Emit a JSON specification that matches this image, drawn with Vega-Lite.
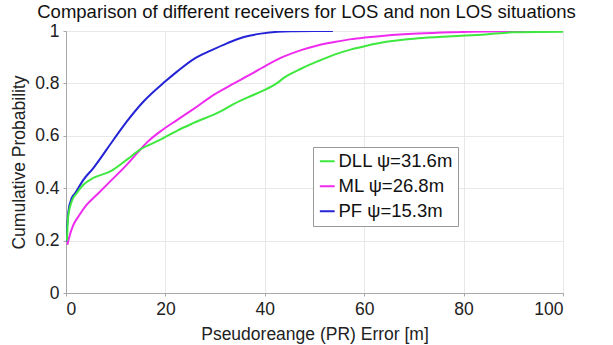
{
  "$schema": "https://vega.github.io/schema/vega-lite/v6.json",
  "width": 497,
  "height": 262,
  "autosize": {"type": "none"},
  "padding": {"left": 66, "top": 31, "right": 50, "bottom": 52},
  "background": "white",
  "config": {
    "font": "Liberation Sans",
    "view": {"stroke": "#a8a8a8", "strokeWidth": 1},
    "axis": {
      "labelFont": "Liberation Sans",
      "titleFont": "Liberation Sans",
      "labelColor": "#222",
      "titleColor": "#222",
      "labelFontSize": 17.5,
      "titleFontSize": 17.5,
      "titleFontWeight": "normal",
      "domainColor": "#a8a8a8",
      "gridColor": "#e8e8e8",
      "tickColor": "#a8a8a8",
      "tickSize": 3
    }
  },
  "title": {
    "text": "Comparison of different receivers for LOS and non LOS situations",
    "fontSize": 18.5,
    "fontWeight": "normal",
    "font": "Liberation Sans",
    "color": "#111",
    "offset": 1,
    "dx": -8
  },
  "data": {
    "values": [
      {"r": "PF ψ=15.3m", "x": 0, "y": 0.197},
      {"r": "PF ψ=15.3m", "x": 0.47, "y": 0.31},
      {"r": "PF ψ=15.3m", "x": 1.15, "y": 0.362},
      {"r": "PF ψ=15.3m", "x": 1.8, "y": 0.38},
      {"r": "PF ψ=15.3m", "x": 3.5, "y": 0.432},
      {"r": "PF ψ=15.3m", "x": 5.5, "y": 0.477},
      {"r": "PF ψ=15.3m", "x": 9.56, "y": 0.585},
      {"r": "PF ψ=15.3m", "x": 12.25, "y": 0.655},
      {"r": "PF ψ=15.3m", "x": 15.6, "y": 0.731},
      {"r": "PF ψ=15.3m", "x": 20, "y": 0.808},
      {"r": "PF ψ=15.3m", "x": 22.4, "y": 0.846},
      {"r": "PF ψ=15.3m", "x": 25.7, "y": 0.893},
      {"r": "PF ψ=15.3m", "x": 29.1, "y": 0.925},
      {"r": "PF ψ=15.3m", "x": 32.5, "y": 0.954},
      {"r": "PF ψ=15.3m", "x": 35.8, "y": 0.977},
      {"r": "PF ψ=15.3m", "x": 39.2, "y": 0.99},
      {"r": "PF ψ=15.3m", "x": 42.6, "y": 0.997},
      {"r": "PF ψ=15.3m", "x": 46, "y": 0.999},
      {"r": "PF ψ=15.3m", "x": 50, "y": 1.0},
      {"r": "PF ψ=15.3m", "x": 53.7, "y": 1.0},

      {"r": "ML ψ=26.8m", "x": 0.27, "y": 0.184},
      {"r": "ML ψ=26.8m", "x": 0.6, "y": 0.21},
      {"r": "ML ψ=26.8m", "x": 1.48, "y": 0.26},
      {"r": "ML ψ=26.8m", "x": 2.5, "y": 0.292},
      {"r": "ML ψ=26.8m", "x": 4.18, "y": 0.337},
      {"r": "ML ψ=26.8m", "x": 6.2, "y": 0.375},
      {"r": "ML ψ=26.8m", "x": 8.9, "y": 0.426},
      {"r": "ML ψ=26.8m", "x": 12.25, "y": 0.49},
      {"r": "ML ψ=26.8m", "x": 14.3, "y": 0.534},
      {"r": "ML ψ=26.8m", "x": 16.3, "y": 0.575},
      {"r": "ML ψ=26.8m", "x": 19, "y": 0.617},
      {"r": "ML ψ=26.8m", "x": 22.4, "y": 0.661},
      {"r": "ML ψ=26.8m", "x": 25.7, "y": 0.703},
      {"r": "ML ψ=26.8m", "x": 29.8, "y": 0.757},
      {"r": "ML ψ=26.8m", "x": 33.8, "y": 0.8},
      {"r": "ML ψ=26.8m", "x": 37.2, "y": 0.835},
      {"r": "ML ψ=26.8m", "x": 40.5, "y": 0.871},
      {"r": "ML ψ=26.8m", "x": 43.9, "y": 0.903},
      {"r": "ML ψ=26.8m", "x": 47.3, "y": 0.927},
      {"r": "ML ψ=26.8m", "x": 50.6, "y": 0.945},
      {"r": "ML ψ=26.8m", "x": 54, "y": 0.958},
      {"r": "ML ψ=26.8m", "x": 57.4, "y": 0.969},
      {"r": "ML ψ=26.8m", "x": 60.1, "y": 0.975},
      {"r": "ML ψ=26.8m", "x": 64.1, "y": 0.982},
      {"r": "ML ψ=26.8m", "x": 70.8, "y": 0.99},
      {"r": "ML ψ=26.8m", "x": 77.6, "y": 0.995},
      {"r": "ML ψ=26.8m", "x": 84, "y": 0.998},
      {"r": "ML ψ=26.8m", "x": 100, "y": 1.0},

      {"r": "DLL ψ=31.6m", "x": 0.2, "y": 0.2},
      {"r": "DLL ψ=31.6m", "x": 0.4, "y": 0.286},
      {"r": "DLL ψ=31.6m", "x": 1.15, "y": 0.35},
      {"r": "DLL ψ=31.6m", "x": 2.1, "y": 0.38},
      {"r": "DLL ψ=31.6m", "x": 3.5, "y": 0.413},
      {"r": "DLL ψ=31.6m", "x": 5.5, "y": 0.439},
      {"r": "DLL ψ=31.6m", "x": 8.9, "y": 0.464},
      {"r": "DLL ψ=31.6m", "x": 12.25, "y": 0.509},
      {"r": "DLL ψ=31.6m", "x": 14.9, "y": 0.547},
      {"r": "DLL ψ=31.6m", "x": 19, "y": 0.585},
      {"r": "DLL ψ=31.6m", "x": 22.4, "y": 0.62},
      {"r": "DLL ψ=31.6m", "x": 25.7, "y": 0.649},
      {"r": "DLL ψ=31.6m", "x": 31.1, "y": 0.693},
      {"r": "DLL ψ=31.6m", "x": 33.8, "y": 0.722},
      {"r": "DLL ψ=31.6m", "x": 37.2, "y": 0.752},
      {"r": "DLL ψ=31.6m", "x": 39.9, "y": 0.774},
      {"r": "DLL ψ=31.6m", "x": 42.6, "y": 0.803},
      {"r": "DLL ψ=31.6m", "x": 43.9, "y": 0.822},
      {"r": "DLL ψ=31.6m", "x": 47.3, "y": 0.856},
      {"r": "DLL ψ=31.6m", "x": 50.6, "y": 0.884},
      {"r": "DLL ψ=31.6m", "x": 54, "y": 0.91},
      {"r": "DLL ψ=31.6m", "x": 57.4, "y": 0.93},
      {"r": "DLL ψ=31.6m", "x": 60.7, "y": 0.945},
      {"r": "DLL ψ=31.6m", "x": 64.1, "y": 0.958},
      {"r": "DLL ψ=31.6m", "x": 70.8, "y": 0.972},
      {"r": "DLL ψ=31.6m", "x": 77.6, "y": 0.98},
      {"r": "DLL ψ=31.6m", "x": 84.4, "y": 0.987},
      {"r": "DLL ψ=31.6m", "x": 89.8, "y": 0.995},
      {"r": "DLL ψ=31.6m", "x": 100, "y": 0.997}
    ]
  },
  "mark": {"type": "line", "strokeWidth": 2, "clip": true, "interpolate": "monotone"},
  "encoding": {
    "x": {
      "field": "x",
      "type": "quantitative",
      "scale": {"domain": [0, 100], "nice": false},
      "axis": {"values": [0, 20, 40, 60, 80, 100], "title": "Pseudoreange (PR) Error [m]", "labelPadding": 4, "titlePadding": 8}
    },
    "y": {
      "field": "y",
      "type": "quantitative",
      "scale": {"domain": [0, 1], "nice": false},
      "axis": {"values": [0, 0.2, 0.4, 0.6, 0.8, 1], "format": "~g", "title": "Cumulative Probability", "labelPadding": 4, "titlePadding": 6}
    },
    "color": {
      "field": "r",
      "type": "nominal",
      "scale": {
        "domain": ["DLL ψ=31.6m", "ML ψ=26.8m", "PF ψ=15.3m"],
        "range": ["#3ee83e", "#ee2bee", "#2424d6"]
      },
      "legend": {
        "title": null,
        "orient": "none",
        "legendX": 247,
        "legendY": 116,
        "symbolType": "stroke",
        "symbolStrokeWidth": 2,
        "symbolSize": 220,
        "labelFontSize": 18.5,
        "labelFont": "Liberation Sans",
        "labelColor": "#111",
        "labelOffset": 2,
        "rowPadding": 6,
        "padding": 5,
        "strokeColor": "#999",
        "fillColor": "white"
      }
    }
  }
}
